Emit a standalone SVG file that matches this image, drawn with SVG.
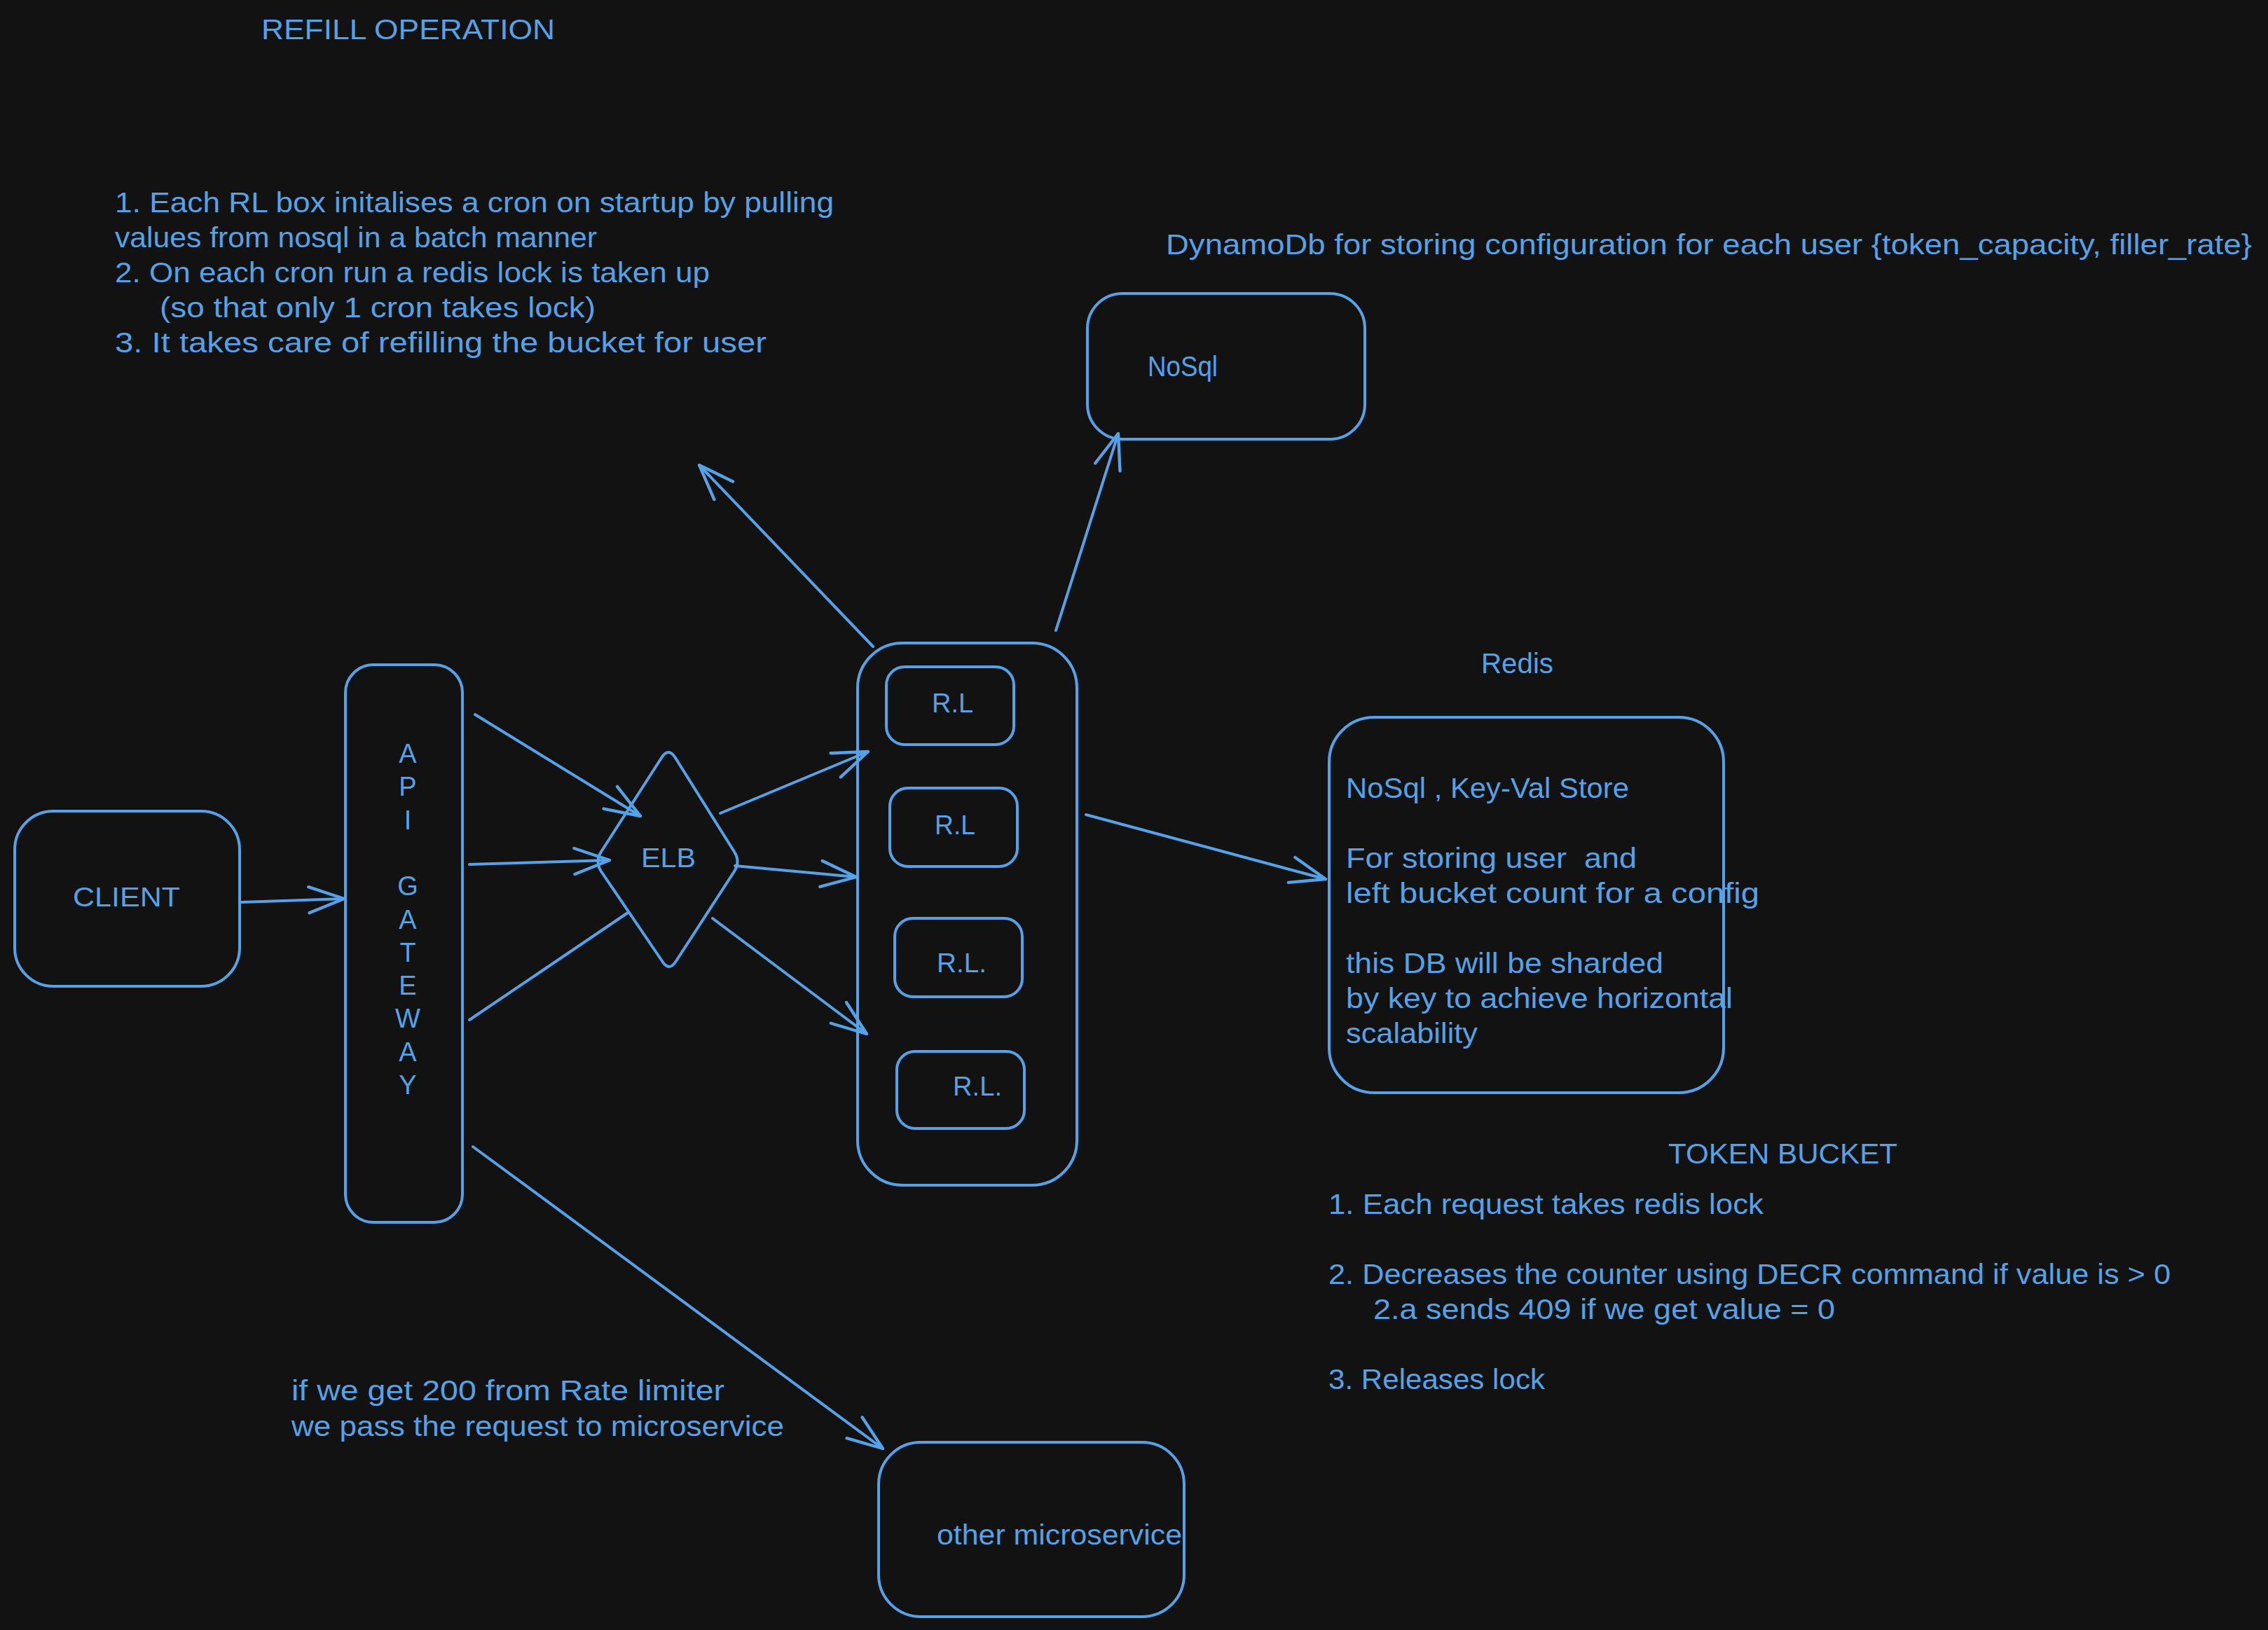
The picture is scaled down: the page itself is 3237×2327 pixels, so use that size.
<svg xmlns="http://www.w3.org/2000/svg" width="3237" height="2327" viewBox="0 0 3237 2327">
<style>
.bx{fill:none;stroke:#56a2e8;stroke-width:4;stroke-linejoin:round}
.ln{fill:none;stroke:#56a2e8;stroke-width:4;stroke-linecap:round}
.t{font-family:"Liberation Sans","DejaVu Sans",Arial,sans-serif;font-size:40px;fill:#56a2e8}
.h{font-family:"Liberation Sans","DejaVu Sans",Arial,sans-serif;font-size:38px;fill:#56a2e8}
.c{text-anchor:middle}
</style>
<defs>
<marker id="ah" markerUnits="userSpaceOnUse" markerWidth="60" markerHeight="60" viewBox="-50 -25 55 50" refX="0" refY="0" orient="auto" overflow="visible">
<path d="M-46,-17 L0,0 L-46,17" fill="none" stroke="#56a2e8" stroke-width="4" stroke-linecap="round" stroke-linejoin="round"/>
</marker>
</defs>
<rect width="3237" height="2327" fill="#121212"/>

<g id="connectors">
<line class="ln" x1="345" y1="1288" x2="491" y2="1283" marker-end="url(#ah)"/>
<line class="ln" x1="678" y1="1020" x2="914" y2="1165" marker-end="url(#ah)"/>
<line class="ln" x1="670" y1="1234" x2="870" y2="1228" marker-end="url(#ah)"/>
<line class="ln" x1="670" y1="1456" x2="896" y2="1303"/>
<line class="ln" x1="675" y1="1637" x2="1260" y2="2068" marker-end="url(#ah)"/>
<line class="ln" x1="1028" y1="1161" x2="1239" y2="1073" marker-end="url(#ah)"/>
<line class="ln" x1="1049" y1="1236" x2="1222" y2="1252" marker-end="url(#ah)"/>
<line class="ln" x1="1017" y1="1311" x2="1237" y2="1476" marker-end="url(#ah)"/>
<line class="ln" x1="1550" y1="1163" x2="1892" y2="1255" marker-end="url(#ah)"/>
<line class="ln" x1="1507" y1="900" x2="1596" y2="619" marker-end="url(#ah)"/>
<line class="ln" x1="1246" y1="923" x2="998" y2="664" marker-end="url(#ah)"/>
</g>

<g id="refill-title"><text class="t" x="373" y="56" textLength="419" lengthAdjust="spacingAndGlyphs">REFILL OPERATION</text></g>
<g id="refill-notes">
<text class="t" x="164" y="303" textLength="1026" lengthAdjust="spacingAndGlyphs">1. Each RL box initalises a cron on startup by pulling</text>
<text class="t" x="164" y="353" textLength="688" lengthAdjust="spacingAndGlyphs">values from nosql in a batch manner</text>
<text class="t" x="164" y="403" textLength="849" lengthAdjust="spacingAndGlyphs">2. On each cron run a redis lock is taken up</text>
<text class="t" x="228" y="453" textLength="622" lengthAdjust="spacingAndGlyphs">(so that only 1 cron takes lock)</text>
<text class="t" x="164" y="503" textLength="930" lengthAdjust="spacingAndGlyphs">3. It takes care of refilling the bucket for user</text>
</g>
<g id="dynamo-note"><text class="t" x="1664" y="363" textLength="1550" lengthAdjust="spacingAndGlyphs">DynamoDb for storing configuration for each user {token_capacity, filler_rate}</text></g>

<g id="nosql">
<rect class="bx" x="1552" y="419" width="396" height="208" rx="50"/>
<text class="t" x="1638" y="537" textLength="100" lengthAdjust="spacingAndGlyphs">NoSql</text>
</g>

<g id="client">
<rect class="bx" x="21" y="1158" width="321" height="250" rx="55"/>
<text class="h" x="104" y="1294" textLength="153" lengthAdjust="spacingAndGlyphs">CLIENT</text>
</g>

<g id="api-gateway">
<rect class="bx" x="493" y="949" width="167" height="796" rx="40"/>
<text class="h c" x="582" y="1089">A</text>
<text class="h c" x="582" y="1136">P</text>
<text class="h c" x="582" y="1184">I</text>
<text class="h c" x="582" y="1278">G</text>
<text class="h c" x="582" y="1326">A</text>
<text class="h c" x="582" y="1373">T</text>
<text class="h c" x="582" y="1420">E</text>
<text class="h c" x="582" y="1467">W</text>
<text class="h c" x="582" y="1515">A</text>
<text class="h c" x="582" y="1562">Y</text>
</g>

<g id="elb">
<path class="bx" d="M944,1082 Q954,1066 964,1082 L1048,1216 Q1057,1230 1048,1244 L965,1372 Q955,1388 945,1372 L858,1244 Q849,1230 858,1216 Z"/>
<text class="h" x="915" y="1238" textLength="78" lengthAdjust="spacingAndGlyphs">ELB</text>
</g>

<g id="rate-limiters">
<rect class="bx" x="1224" y="918" width="313" height="774" rx="64"/>
</g>
<g id="rl1">
<rect class="bx" x="1265" y="952" width="182" height="111" rx="26"/>
<text class="h" x="1330" y="1017" textLength="59" lengthAdjust="spacingAndGlyphs">R.L</text>
</g>
<g id="rl2">
<rect class="bx" x="1270" y="1125" width="182" height="112" rx="26"/>
<text class="h" x="1334" y="1191" textLength="58" lengthAdjust="spacingAndGlyphs">R.L</text>
</g>
<g id="rl3">
<rect class="bx" x="1277" y="1311" width="182" height="112" rx="26"/>
<text class="h" x="1337" y="1388" textLength="71" lengthAdjust="spacingAndGlyphs">R.L.</text>
</g>
<g id="rl4">
<rect class="bx" x="1280" y="1501" width="182" height="110" rx="26"/>
<text class="h" x="1360" y="1564" textLength="70" lengthAdjust="spacingAndGlyphs">R.L.</text>
</g>

<g id="redis-title"><text class="t" x="2114" y="961" textLength="103" lengthAdjust="spacingAndGlyphs">Redis</text></g>
<g id="redis">
<rect class="bx" x="1897" y="1024" width="563" height="536" rx="64"/>
<text class="t" x="1921" y="1139" textLength="404" lengthAdjust="spacingAndGlyphs">NoSql , Key-Val Store</text>
<text class="t" x="1921" y="1239" textLength="415" lengthAdjust="spacingAndGlyphs" xml:space="preserve">For storing user  and</text>
<text class="t" x="1921" y="1289" textLength="590" lengthAdjust="spacingAndGlyphs">left bucket count for a config</text>
<text class="t" x="1921" y="1389" textLength="453" lengthAdjust="spacingAndGlyphs">this DB will be sharded</text>
<text class="t" x="1921" y="1439" textLength="552" lengthAdjust="spacingAndGlyphs">by key to achieve horizontal</text>
<text class="t" x="1921" y="1489" textLength="188" lengthAdjust="spacingAndGlyphs">scalability</text>
</g>

<g id="token-bucket-title"><text class="t" x="2381" y="1661" textLength="327" lengthAdjust="spacingAndGlyphs">TOKEN BUCKET</text></g>
<g id="token-bucket-notes">
<text class="t" x="1896" y="1733" textLength="621" lengthAdjust="spacingAndGlyphs">1. Each request takes redis lock</text>
<text class="t" x="1896" y="1833" textLength="1202" lengthAdjust="spacingAndGlyphs">2. Decreases the counter using DECR command if value is &gt; 0</text>
<text class="t" x="1960" y="1883" textLength="659" lengthAdjust="spacingAndGlyphs">2.a sends 409 if we get value = 0</text>
<text class="t" x="1896" y="1983" textLength="309" lengthAdjust="spacingAndGlyphs">3. Releases lock</text>
</g>

<g id="pass-note">
<text class="t" x="416" y="1999" textLength="618" lengthAdjust="spacingAndGlyphs">if we get 200 from Rate limiter</text>
<text class="t" x="416" y="2050" textLength="703" lengthAdjust="spacingAndGlyphs">we pass the request to microservice</text>
</g>

<g id="other-microservice">
<rect class="bx" x="1254" y="2059" width="436" height="249" rx="60"/>
<text class="t" x="1337" y="2205" textLength="350" lengthAdjust="spacingAndGlyphs">other microservice</text>
</g>
</svg>
